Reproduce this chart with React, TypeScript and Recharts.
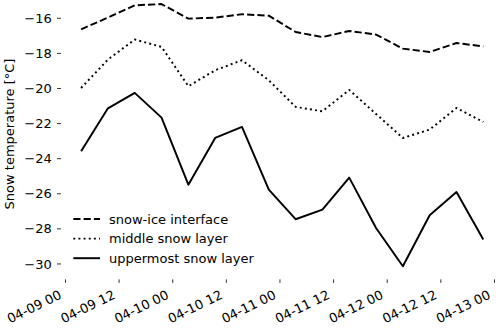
import { LineChart, Line, XAxis, YAxis, Label } from 'recharts';

const FONT = '"DejaVu Sans", sans-serif';

// hours since 04-09 00:00
const hours = [3.5, 9.5, 15.5, 21.5, 27.5, 33.5, 39.5, 45.5, 51.5, 57.5, 63.5, 69.5, 75.5, 81.5, 87.5, 93.5];

const iceInterface = [-16.63, -15.96, -15.26, -15.19, -16.02, -15.96, -15.77, -15.85, -16.78, -17.07, -16.72, -16.93, -17.73, -17.92, -17.41, -17.6];
const middleLayer = [-19.97, -18.35, -17.21, -17.63, -19.87, -18.96, -18.39, -19.53, -21.05, -21.3, -20.08, -21.45, -22.82, -22.34, -21.11, -21.91];
const uppermostLayer = [-23.58, -21.13, -20.25, -21.66, -25.48, -22.82, -22.19, -25.76, -27.45, -26.9, -25.08, -27.95, -30.13, -27.22, -25.9, -28.61];

const xTicks = [0, 12, 24, 36, 48, 60, 72, 84, 96];
const xTickLabels = ['04-09 00', '04-09 12', '04-10 00', '04-10 12', '04-11 00', '04-11 12', '04-12 00', '04-12 12', '04-13 00'];
const yTicks = [-30, -28, -26, -24, -22, -20, -18, -16];

const data = hours.map((h, i) => ({
  h,
  ice: iceInterface[i],
  mid: middleLayer[i],
  top: uppermostLayer[i],
}));

const series = [
  { key: 'ice', name: 'snow-ice interface', dash: '7.2 3.1' },
  { key: 'mid', name: 'middle snow layer', dash: '1.95 3.2' },
  { key: 'top', name: 'uppermost snow layer', dash: undefined },
];

function XTick(props: any) {
  const { x, y, payload } = props;
  const label = xTickLabels[xTicks.indexOf(payload.value)] ?? '';
  // text end (baseline) sits just below-left of the tick mark
  const ax = x - 3;
  const ay = y + 15;
  return (
    <text
      x={ax}
      y={ay}
      textAnchor="end"
      transform={`rotate(-26, ${ax}, ${ay})`}
      fill="#000"
      fontSize={13}
      fontFamily={FONT}
    >
      {label}
    </text>
  );
}

// legend drawn inside the svg so it does not eat plot space
function LegendBox() {
  return (
    <g transform="translate(72, 208)">
      {series.map((s, i) => {
        const y = 11 + i * 19.6;
        return (
          <g key={s.key}>
            <line x1={1.3} x2={28} y1={y} y2={y} stroke="#000" strokeWidth={1.95} strokeDasharray={s.dash} />
            <text x={37} y={y + 4.5} fontSize={13} fontFamily={FONT} fill="#000">
              {s.name}
            </text>
          </g>
        );
      })}
    </g>
  );
}

export default function App() {
  return (
    <div style={{ position: 'absolute', left: 0, top: 0, width: 500, height: 328, overflow: 'hidden', background: '#fff' }}>
      <LineChart width={510} height={328} data={data} margin={{ top: 0.75, right: 6.6, bottom: 0, left: 0 }}>
        <XAxis
          dataKey="h"
          type="number"
          domain={[-1, 98]}
          ticks={xTicks}
          interval={0}
          height={48.6}
          axisLine={false}
          tickSize={3.5}
          tickMargin={0}
          tickLine={{ stroke: '#000', strokeWidth: 0.8 }}
          tick={<XTick />}
        >
          <Label content={() => <LegendBox />} />
        </XAxis>
        <YAxis
          type="number"
          domain={[-30.88, -15]}
          ticks={yTicks}
          interval={0}
          width={61}
          axisLine={false}
          tickSize={4}
          tickMargin={5.3}
          tickLine={{ stroke: '#000', strokeWidth: 0.8 }}
          tick={{ fill: '#000', fontSize: 13, fontFamily: FONT }}
          tickFormatter={(v: number) => String(v).replace('-', '\u2212')}
        >
          <Label
            content={() => (
              <text
                x={9}
                y={134}
                transform="rotate(-90, 9, 134)"
                textAnchor="middle"
                dominantBaseline="central"
                fontSize={13}
                fontFamily={FONT}
                fill="#000"
              >
                Snow temperature [°C]
              </text>
            )}
          />
        </YAxis>
        {series.map((s) => (
          <Line
            key={s.key}
            dataKey={s.key}
            name={s.name}
            type="linear"
            stroke="#000"
            strokeWidth={1.95}
            strokeDasharray={s.dash}
            strokeLinejoin="round"
            dot={false}
            activeDot={false}
            isAnimationActive={false}
          />
        ))}
      </LineChart>
    </div>
  );
}
